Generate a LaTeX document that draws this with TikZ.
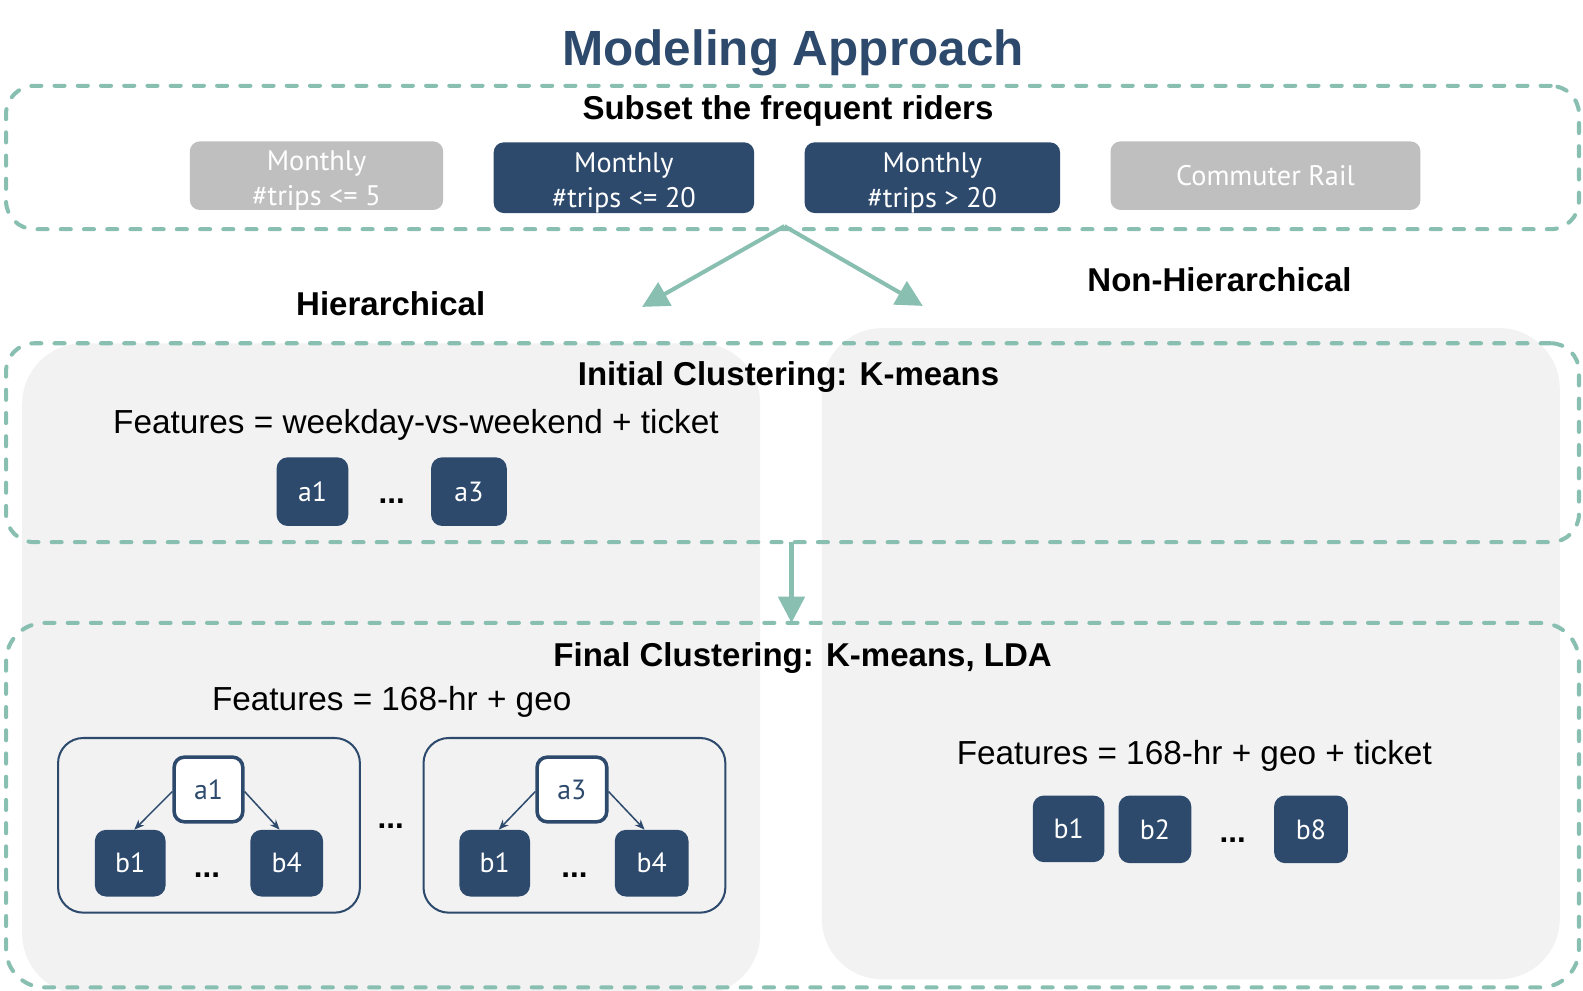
\documentclass[tikz,border=0pt]{standalone}
\usepackage{fontspec}
\setmainfont{Liberation Sans}
\newfontfamily\boxfont{PT Sans}
\usetikzlibrary{arrows.meta}
\definecolor{navy}{HTML}{2D4A6D}
\definecolor{tealc}{HTML}{88BFB1}
\definecolor{grayb}{HTML}{BFBFBF}
\definecolor{panel}{HTML}{F2F2F2}
\begin{document}
\begin{tikzpicture}[x=1pt,y=-1pt,
  panelbox/.style={fill=panel, draw=none, rounded corners=60pt, inner sep=0pt},
  dashbox/.style={draw=tealc, line width=4pt, dash pattern=on 10pt off 13pt, line cap=round, rounded corners=28pt, inner sep=0pt},
  graybox/.style={fill=grayb, rounded corners=10pt, inner sep=0pt},
  navybox/.style={fill=navy, rounded corners=10pt, inner sep=0pt},
  boxtxt/.style={text=white, font=\boxfont\fontsize{28}{34.7}\selectfont, align=center, inner sep=0pt},
  clus/.style={fill=navy, rounded corners=11pt, text=white, font=\boxfont\fontsize{27.5}{30}\selectfont, inner sep=0pt},
  abox/.style={draw=navy, line width=3.5pt, fill=white, text=navy, rounded corners=10pt, font=\boxfont\fontsize{27.5}{30}\selectfont, inner sep=0pt},
  outl/.style={draw=navy, line width=2pt, rounded corners=25pt, fill=panel, inner sep=0pt},
  heading/.style={font=\bfseries\fontsize{32.7}{36}\selectfont, inner sep=0pt},
  body/.style={font=\fontsize{33}{36}\selectfont, inner sep=0pt},
  dots/.style={font=\bfseries\fontsize{31}{34}\selectfont, inner sep=0pt},
  flow/.style={draw=tealc, line width=4pt, -{Triangle[length=26pt,width=26pt]}},
  thinarrow/.style={draw=navy, line width=1.5pt, -{Stealth[length=10pt,width=8pt]}}
]
\useasboundingbox (0,0) rectangle (1568,981.6);

% light panels
\node[panelbox, minimum width=731pt, minimum height=645pt] (lpanel) at (387.5,662.5) {};
\node[panelbox, minimum width=731pt, minimum height=645pt] (rpanel) at (1179.5,647.5) {};

% title
\node[font=\bfseries\fontsize{49}{56}\selectfont, text=navy, inner sep=0pt] (title) at (785.5,52) {Modeling Approach};

% top dashed box
\node[dashbox, minimum width=1558pt, minimum height=142pt] (topbox) at (785,156) {};
\node[heading] (subset) at (780.5,110) {Subset the frequent riders};
\node[graybox, minimum width=251pt, minimum height=68pt] (m5) at (313.5,174) {};
\node[boxtxt] (m5t) at ([yshift=-5pt]m5.center) {Monthly\\\#trips <= 5};
\node[navybox, minimum width=258pt, minimum height=70pt] (m20) at (618,176) {};
\node[boxtxt] (m20t) at ([yshift=-5pt]m20.center) {Monthly\\\#trips <= 20};
\node[navybox, minimum width=253pt, minimum height=70pt] (m20p) at (923.5,176) {};
\node[boxtxt] (m20pt) at ([yshift=-5pt]m20p.center) {Monthly\\\#trips > 20};
\node[graybox, minimum width=307pt, minimum height=68pt, boxtxt] (cr) at (1253.5,174) {Commuter Rail};

% split arrows
\coordinate (split) at (777,224);
\coordinate (hend) at (636,304);
\coordinate (nend) at (914,303);
\draw[flow] (split) -- (hend);
\draw[flow] (split) -- (nend);
\node[heading] (hier) at (387,301) {Hierarchical};
\node[heading] (nonhier) at (1208,277) {Non-Hierarchical};

% middle dashed box
\node[dashbox, minimum width=1558pt, minimum height=197pt] (midbox) at (785,438.5) {};
\node[heading] (init) at (781,373) {Initial Clustering: K-means};
\node[body] (feat1) at (412,421) {Features = weekday-vs-weekend + ticket};
\node[clus, minimum width=71pt, minimum height=68pt] (ia1) at (309.5,487) {a1};
\node[dots] (idots) at (388,496) {...};
\node[clus, minimum width=75pt, minimum height=68pt] (ia3) at (464.5,487) {a3};

% vertical arrow
\coordinate (vtop) at (784,537);
\coordinate (vbot) at (784,617);
\draw[flow] (vtop) -- (vbot);

% bottom dashed box
\node[dashbox, minimum width=1558pt, minimum height=361pt, rounded corners=38pt] (botbox) at (785,797.5) {};
\node[heading] (final) at (795,652) {Final Clustering: K-means, LDA};
\node[body] (feat2) at (388,695) {Features = 168-hr + geo};

% left group
\node[outl, minimum width=299pt, minimum height=173pt] (gl) at (207,817.5) {};
\node[abox, minimum width=68pt, minimum height=64pt] (la1) at (206.5,782) {a1};
\node[clus, minimum width=70pt, minimum height=66pt] (lb1) at (129,855) {b1};
\node[clus, minimum width=72pt, minimum height=66pt] (lb4) at (284,855) {b4};
\node[dots] (ldots) at (205,867) {...};
\draw[thinarrow] ([yshift=-2pt]la1.west) -- ([xshift=4pt]lb1.north);
\draw[thinarrow] ([yshift=-2pt]la1.east) -- ([xshift=-7pt]lb4.north);

\node[dots] (gdots) at (387,818) {...};

% right group
\node[outl, minimum width=299pt, minimum height=173pt] (gr) at (569,817.5) {};
\node[abox, minimum width=69pt, minimum height=64pt] (ra3) at (566.5,782) {a3};
\node[clus, minimum width=70pt, minimum height=66pt] (rb1) at (490,855) {b1};
\node[clus, minimum width=73pt, minimum height=66pt] (rb4) at (645.5,855) {b4};
\node[dots] (rdots) at (569,867) {...};
\draw[thinarrow] ([yshift=-2pt]ra3.west) -- ([xshift=4pt]rb1.north);
\draw[thinarrow] ([yshift=-2pt]ra3.east) -- ([xshift=-7pt]rb4.north);

% non-hierarchical
\node[body] (feat3) at (1183,749) {Features = 168-hr + geo + ticket};
\node[clus, minimum width=71pt, minimum height=66pt] (nb1) at (1058.5,821) {b1};
\node[clus, minimum width=72pt, minimum height=67pt] (nb2) at (1144,821.5) {b2};
\node[dots] (ndots) at (1221,832) {...};
\node[clus, minimum width=73pt, minimum height=67pt] (nb8) at (1298.5,821.5) {b8};
\end{tikzpicture}
\end{document}
